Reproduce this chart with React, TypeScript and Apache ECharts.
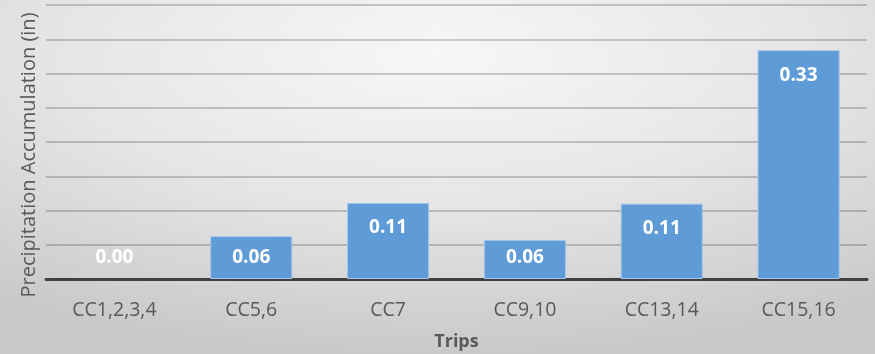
import React, { useEffect, useRef } from "react";
import * as echarts from "echarts";

const categories = ["CC1,2,3,4", "CC5,6", "CC7", "CC9,10", "CC13,14", "CC15,16"];
const precipitation = [0, 0.0625, 0.111, 0.057, 0.11, 0.334];
const yMin = 0;
const yMax = 0.4;
const yInterval = 0.05;

const FONT = "'Open Sans', 'Liberation Sans', Arial, sans-serif";

export default function App() {
  const ref = useRef<HTMLDivElement>(null);

  useEffect(() => {
    if (!ref.current) return;
    const chart = echarts.init(ref.current, null, { renderer: "svg" });
    const data = precipitation.map((v) => ({
      value: v,
      itemStyle: v === 0 ? { borderWidth: 0 } : undefined,
      label: {
        position: v < 0.1 ? "insideBottom" : "insideTop",
        distance: 14,
      },
    }));
    chart.setOption({
      animation: false,
      backgroundColor: {
        type: "radial",
        x: 0.5,
        y: 0.15,
        r: 0.85,
        colorStops: [
          { offset: 0, color: "#f7f7f7" },
          { offset: 0.5, color: "#e6e6e6" },
          { offset: 1, color: "#c9c9c9" },
        ],
      },
      grid: { left: 46, right: 8, top: 5, bottom: 75 },
      xAxis: {
        type: "category",
        data: categories,
        name: "Trips",
        nameLocation: "middle",
        nameGap: 52,
        nameTextStyle: { fontFamily: FONT, fontSize: 18, fontWeight: "bold", color: "#595959" },
        axisLine: { lineStyle: { color: "#404040", width: 3 } },
        axisTick: { show: false },
        axisLabel: { fontFamily: FONT, fontSize: 19.5, color: "#595959", margin: 19 },
      },
      yAxis: {
        type: "value",
        min: yMin,
        max: yMax,
        interval: yInterval,
        axisLabel: { show: false },
        axisLine: { show: false },
        axisTick: { show: false },
        splitLine: { lineStyle: { color: "rgba(0,0,0,0.25)", width: 1.5 } },
      },
      graphic: [
        {
          type: "text",
          x: 27,
          y: 155,
          rotation: Math.PI / 2,
          style: {
            text: "Precipitation Accumulation (in)",
            fontFamily: FONT,
            fontSize: 20,
            fill: "#595959",
            textAlign: "center",
            textVerticalAlign: "middle",
          },
        },
      ],
      series: [
        {
          type: "bar",
          data,
          barCategoryGap: "40%",
          itemStyle: { color: "#5f9bd6", borderColor: "#a4c6ea", borderWidth: 1 },
          label: {
            show: true,
            color: "#ffffff",
            fontFamily: FONT,
            fontWeight: "bold",
            fontSize: 19,
            formatter: (p: any) => Number(p.value).toFixed(2),
          },
        },
      ],
    });
    return () => chart.dispose();
  }, []);

  return (
    <div
      ref={ref}
      style={{ position: "fixed", left: 0, top: 0, width: 875, height: 354 }}
    />
  );
}
